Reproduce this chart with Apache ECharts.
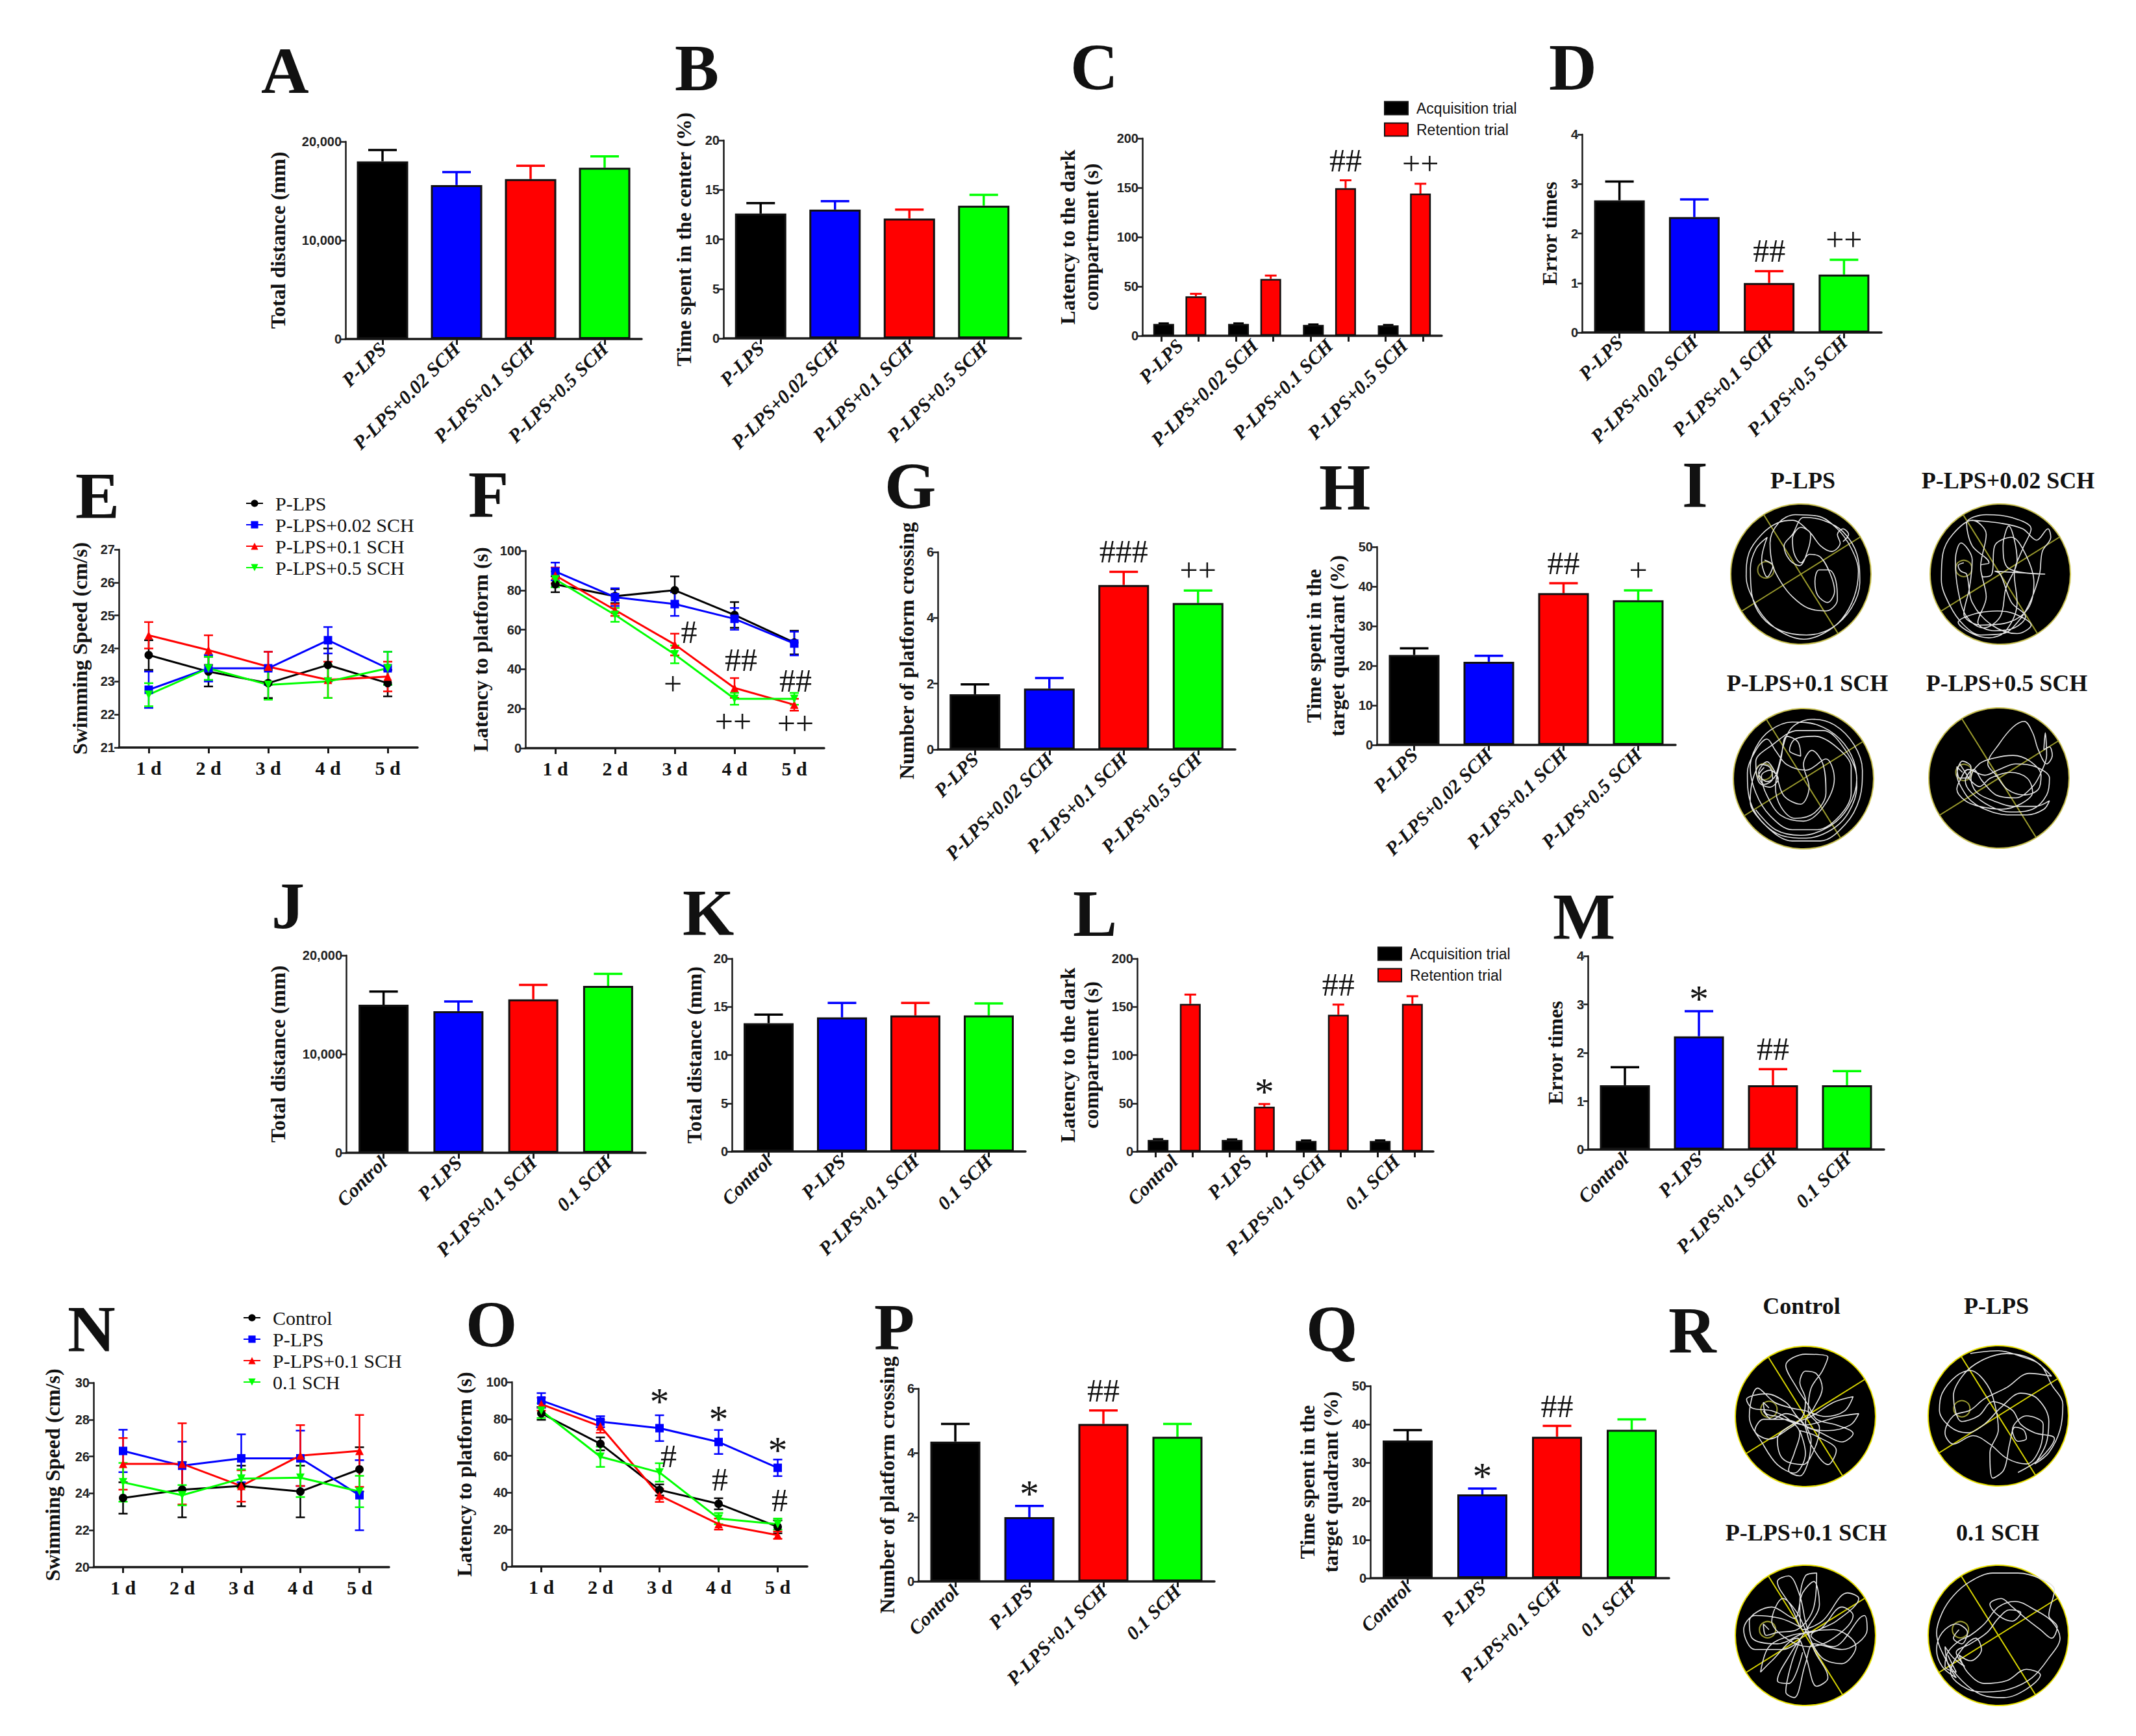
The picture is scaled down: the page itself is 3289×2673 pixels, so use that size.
<!DOCTYPE html>
<html><head><meta charset="utf-8">
<script src="https://cdn.jsdelivr.net/npm/echarts/dist/echarts.min.js"></script>
<style>html,body{margin:0;padding:0;background:#fff}#c{width:3289px;height:2673px}</style>
</head><body><div id="c"></div>
<script>
// ================= DATA =================
const catsSCH = ['P-LPS','P-LPS+0.02 SCH','P-LPS+0.1 SCH','P-LPS+0.5 SCH'];
const catsCtl = ['Control','P-LPS','P-LPS+0.1 SCH','0.1 SCH'];
const days = ['1 d','2 d','3 d','4 d','5 d'];
const trialNames = ['Acquisition trial','Retention trial'];
const groupsEF = ['P-LPS','P-LPS+0.02 SCH','P-LPS+0.1 SCH','P-LPS+0.5 SCH'];
const groupsNO = ['Control','P-LPS','P-LPS+0.1 SCH','0.1 SCH'];

const A_mean=[18000,15600,16200,17350], A_sem=[1150,1300,1350,1150];
const B_mean=[12.6,13.0,12.1,13.4], B_sem=[1.05,0.85,0.9,1.1];
const C_acq=[12,12,11,10.5], C_acqSem=[0.6,0.6,0.5,0.5];
const C_ret=[40,57.5,149.5,144], C_retSem=[2.5,3.5,8,10];
const C_sig=['','','##','++'];
const D_mean=[2.67,2.33,1.0,1.17], D_sem=[0.38,0.36,0.24,0.3], D_sig=['','','##','++'];
const E_means=[[23.8,23.3,22.95,23.5,22.95],[22.75,23.4,23.4,24.25,23.4],[24.4,23.95,23.45,23.05,23.15],[22.6,23.4,22.9,23.0,23.4]];
const E_sems=[[0.45,0.45,0.45,0.5,0.4],[0.55,0.4,0.5,0.4,0.5],[0.4,0.45,0.45,0.55,0.45],[0.35,0.35,0.45,0.5,0.5]];
const F_means=[[83,77,80,67.5,53.5],[89.5,76.5,73,65.5,53],[87.5,70,52.5,30.5,22],[85.5,67.5,47.5,25,25]];
const F_sems=[[4,3.5,7,6.5,6],[4.5,4.5,6,5.5,6],[4,3,5.5,5,3],[4,3.5,4.5,3,3]];
const F_marks=[[2,59,'#'],[2,32.5,'+'],[3,44.7,'##'],[3,13.5,'++'],[4,34.1,'##'],[4,12.4,'++']];
const G_mean=[1.68,1.85,5.0,4.45], G_sem=[0.3,0.32,0.4,0.38], G_sig=['','','###','++'];
const H_mean=[22.7,21.0,38.3,36.5], H_sem=[1.7,1.5,2.5,2.5], H_sig=['','','##','+'];
const J_mean=[15000,14350,15550,16900], J_sem=[1330,980,1460,1220];
const K_mean=[13.3,13.9,14.1,14.1], K_sem=[0.9,1.5,1.3,1.25];
const L_acq=[12,12,11,11], L_acqSem=[0.8,0.6,0.5,0.6];
const L_ret=[153,46.5,141.7,153], L_retSem=[9.7,2.7,10.6,8];
const L_sig=['','*','##',''];
const M_mean=[1.33,2.34,1.33,1.33], M_sem=[0.37,0.52,0.33,0.29], M_sig=['','*','##',''];
const N_means=[[23.75,24.2,24.4,24.1,25.3],[26.3,25.5,25.9,25.9,23.9],[25.6,25.6,24.4,26.05,26.3],[24.6,23.9,24.8,24.85,24.1]];
const N_sems=[[0.85,1.5,1.1,1.4,1.2],[1.15,1.3,1.3,1.5,1.9],[1.4,2.2,0.85,1.65,1.95],[1.05,0.55,0.5,1.05,0.85]];
const O_means=[[83,66.5,41.5,34,21.5],[90,78.5,75,67.5,53.5],[88,76,38.5,23,17],[84.5,59.5,51,26,23]];
const O_sems=[[3.5,3.5,3,3,3.5],[4,3,7,6.5,4.5],[3.5,3.5,3.5,3,2],[4,5.5,5,3,3]];
const O_marks=[[2,89.4,'*'],[2,60,'#'],[3,79.8,'*'],[3,47.2,'#'],[4,63.1,'*'],[4,36,'#']];
const P_mean=[4.35,2.0,4.9,4.5], P_sem=[0.55,0.35,0.42,0.4], P_sig=['','*','##',''];
const Q_mean=[35.8,21.8,36.8,38.6], Q_sem=[2.7,1.5,2.8,2.7], Q_sig=['','*','##',''];

// swim tracks in % of the pool box (x right, y down)
const trackI1=[[80,27],[84,22],[80,18],[76,22],[78,28],[72,34],[64,30],[56,20],[44,12],[33,14],[22,22],[13,35],[11,52],[16,68],[25,82],[38,92],[52,96],[66,92],[79,82],[88,66],[91,48],[86,32],[76,18],[62,9],[46,8],[34,14],[28,28],[30,44],[36,56],[44,66],[55,74],[68,76],[76,68],[75,55],[70,47],[63,47],[60,55],[62,65],[69,70],[74,62],[71,50],[64,38],[56,36],[50,42],[45,35],[44,25],[50,17],[57,22],[55,33],[49,44],[42,40],[38,30],[44,22],[52,10],[66,12],[80,20],[90,36],[92,56],[86,74],[72,88],[54,93],[36,90],[22,80],[15,64],[14,46],[18,32],[26,24],[22,40],[26,52],[30,44],[24,40]];
const trackI2=[[30,12],[50,14],[66,18],[76,26],[84,18],[86,24],[80,34],[78,50],[72,68],[64,82],[52,92],[36,93],[24,86],[14,72],[8,54],[9,36],[16,22],[30,12],[40,22],[36,45],[40,66],[34,84],[46,90],[60,88],[68,80],[58,70],[50,50],[46,48],[82,50],[56,46],[52,30],[56,16],[62,40],[54,60],[50,80],[38,88],[26,80],[20,62],[18,40],[22,28],[30,40],[28,60],[24,78],[36,86],[56,84],[70,74],[74,56],[68,36],[58,24],[46,30],[44,50],[38,52],[36,44],[42,42],[30,30],[26,14],[40,8],[58,10],[72,18],[66,32],[60,50],[62,70],[54,90],[42,95],[30,92],[20,84],[32,78],[48,76],[60,78],[72,86],[62,92],[44,86],[30,70],[26,50],[22,48],[20,44],[24,42]];
const trackI3=[[22,42],[18,48],[22,54],[28,50],[26,42],[20,40],[14,50],[12,66],[20,80],[34,90],[52,92],[70,86],[82,74],[88,56],[86,38],[76,22],[60,12],[42,10],[26,16],[16,28],[12,42],[16,60],[26,76],[42,86],[60,86],[76,76],[84,60],[84,42],[74,28],[58,20],[44,22],[40,30],[48,34],[46,24],[38,20],[34,36],[30,56],[34,70],[44,78],[58,74],[66,60],[64,40],[56,30],[50,40],[54,56],[48,68],[36,62],[30,46],[24,38],[18,46],[24,52],[30,48],[40,16],[56,8],[72,12],[86,26],[92,44],[90,64],[80,82],[62,94],[42,94],[24,84],[12,66],[10,46],[16,30],[24,22],[30,30],[38,40],[52,44],[66,36],[72,50],[64,70],[50,80],[34,76],[24,62],[20,48],[26,44],[32,50],[26,56],[18,52],[16,38],[28,26],[46,16],[64,16],[80,30],[88,50],[82,70],[68,84],[48,90],[30,86],[16,72]];
const trackI4=[[24,46],[20,42],[22,50],[28,50],[30,42],[24,38],[20,48],[24,58],[30,66],[40,72],[56,76],[70,76],[82,72],[86,66],[76,70],[60,70],[46,66],[34,60],[30,50],[36,40],[46,36],[60,34],[72,38],[80,48],[78,58],[68,62],[56,58],[48,48],[42,40],[50,26],[60,14],[68,10],[74,18],[78,30],[84,40],[88,34],[86,28],[82,30],[83,18],[84,34],[80,46],[74,56],[62,64],[48,62],[38,52],[32,44],[26,52],[30,60],[44,70],[58,74],[74,72],[84,62],[86,50],[76,42],[62,40],[50,44],[40,48],[28,44],[22,52],[20,58],[26,66],[36,70],[52,72],[66,68],[74,60],[70,50],[58,46],[44,50],[36,56],[30,52],[26,46],[22,40]];
const trackR1=[[24,44],[20,40],[22,48],[30,50],[40,54],[50,56],[60,54],[74,50],[88,48],[82,56],[66,60],[52,58],[44,50],[36,40],[22,34],[8,38],[12,44],[26,46],[38,52],[46,62],[42,76],[38,88],[46,92],[52,82],[54,66],[50,54],[56,44],[62,30],[58,20],[50,18],[46,26],[50,38],[48,50],[36,60],[24,66],[14,60],[20,52],[34,52],[48,56],[62,62],[76,68],[84,62],[72,56],[58,52],[52,42],[44,30],[36,14],[50,6],[66,8],[62,18],[54,30],[52,46],[60,58],[56,74],[48,84],[34,80],[30,66],[40,56],[54,50],[70,40],[84,36],[78,46],[64,50],[50,46],[40,44],[28,40],[16,30],[10,50],[20,70],[30,84],[42,90],[50,76],[46,60],[58,64],[72,74],[66,84],[54,70],[48,54],[36,48],[26,52],[20,46]];
const trackR2=[[30,6],[50,4],[66,8],[80,14],[88,28],[96,42],[94,60],[86,76],[76,84],[84,70],[86,54],[78,38],[66,34],[52,44],[40,56],[28,62],[16,58],[8,46],[10,34],[20,22],[30,18],[42,28],[48,44],[50,60],[44,76],[46,94],[54,88],[58,70],[62,58],[68,60],[70,66],[64,68],[60,60],[70,50],[82,56],[80,72],[70,84],[56,80],[44,70],[32,64],[18,70],[12,62],[18,50],[30,46],[40,38],[56,30],[72,20],[88,22],[74,10],[56,6],[40,10],[26,20],[18,36],[24,54],[36,50],[46,40],[60,46],[66,56],[76,62],[90,66],[80,80],[64,90]];
const trackR3=[[24,46],[20,42],[22,50],[30,48],[44,46],[56,30],[58,6],[50,8],[46,28],[48,46],[62,40],[80,20],[88,24],[72,40],[54,50],[70,58],[92,36],[94,46],[76,60],[56,56],[50,70],[42,94],[36,90],[40,70],[46,54],[34,60],[14,60],[6,46],[14,36],[32,38],[46,44],[40,30],[30,12],[38,8],[46,22],[50,40],[56,60],[66,80],[58,86],[50,64],[44,52],[26,68],[18,76],[24,58],[40,50],[60,46],[76,30],[84,36],[70,52],[52,58],[36,52],[26,40],[34,24],[44,34],[52,50],[62,66],[76,70],[86,58],[70,46],[50,48],[30,56],[12,52],[10,40],[26,30],[42,38],[48,20],[56,12],[60,28],[52,44],[40,62],[30,82],[38,84],[48,62]];
const trackR4=[[22,46],[18,52],[24,56],[28,48],[20,42],[10,48],[6,60],[10,72],[20,80],[14,70],[12,58],[18,66],[26,72],[20,62],[30,56],[42,48],[50,38],[58,32],[66,34],[60,40],[50,36],[44,28],[52,24],[60,30],[72,40],[80,46],[88,52],[92,44],[86,36],[90,18],[80,10],[64,6],[46,6],[30,12],[18,22],[10,34],[6,48],[12,66],[24,82],[38,92],[54,94],[70,88],[80,78],[70,74],[56,82],[40,84],[28,76],[22,64],[30,68],[38,60],[34,52],[24,60],[16,76],[28,88],[42,90],[58,88],[74,80],[86,66],[94,52],[88,40],[76,32],[62,26],[50,30],[40,42],[30,50],[22,54],[14,62],[12,72],[20,76],[14,64]];
const platformsI=[[25,47],[24,46],[22,45],[25,46]];
const platformsR=[[24,45],[24,45],[23,46],[23,46]];
const quadrantAngles=[58,-32];
const arenaCaptions=['P-LPS','P-LPS+0.02 SCH','P-LPS+0.1 SCH','P-LPS+0.5 SCH','Control','P-LPS','P-LPS+0.1 SCH','0.1 SCH'];
const panelLetters=['A','B','C','D','E','F','G','H','I','J','K','L','M','N','O','P','Q','R'];

// ================= LAYOUT / STYLE =================
const SERIF='"Liberation Serif","Times New Roman",Times,serif';
const SANS='"Liberation Sans",Arial,Helvetica,sans-serif';
const INK='#111';
const groupColors=['#000000','#0000ff','#ff0000','#00ff00'];
const lineSymbols=[['circle',0],['rect',0],['triangle',0],['triangle',180]];
const letterPos=[[402,108],[1039,104],[1648,103],[2385,103],[116,763],[721,761],[1362,748],[2031,750],[2590,746],[418,1394],[1051,1405],[1652,1406],[2391,1411],[104,2046],[717,2039],[1346,2043],[2011,2046],[2569,2048]];
const captionPos=[[2776,740],[3092,740],[2783,1052],[3090,1052],[2774,2011],[3074,2011],[2781,2360],[3076,2360]];
const arenaCentersI=[[2773,884],[3080,884],[2777,1199],[3078,1198]];
const arenaCentersR=[[2780,2181],[3077,2180],[2780,2518],[3077,2518]];
const F_markDx=[22,-3,10,-2,2,2], O_markDx=[0,14,0,2,0,3];

const option={animation:false,backgroundColor:'#fff',grid:[],xAxis:[],yAxis:[],series:[],legend:[],graphic:[]};
const comma=v=>Number(v).toLocaleString('en-US');

function addGrid(box){option.grid.push(Object.assign({containLabel:false,outerBoundsMode:'none'},box));return option.grid.length-1;}
function yAxisCfg(g,p){return{gridIndex:g,type:'value',min:p.min,max:p.max,interval:p.interval,
  name:p.name,nameLocation:'middle',nameGap:p.gap,nameRotate:90,nameMoveOverlap:false,
  nameTextStyle:{fontFamily:SERIF,fontWeight:'bold',fontSize:32,lineHeight:36,color:INK},
  axisLine:{show:true,onZero:false,lineStyle:{color:'#1a1a1a',width:2.5}},
  axisTick:{show:true,length:7,lineStyle:{color:'#1a1a1a',width:2.5}},
  axisLabel:{fontFamily:SANS,fontWeight:'bold',fontSize:20,color:'#222',margin:6,formatter:p.fmt},
  splitLine:{show:false}};}
function xCatAxis(g,cats,rot,tick){return{gridIndex:g,type:'category',data:cats,position:'bottom',
  axisLine:{onZero:false,lineStyle:{color:'#1a1a1a',width:3.5}},
  axisTick:{show:tick,alignWithLabel:true,length:9,lineStyle:{color:'#1a1a1a',width:3}},
  axisLabel:rot?{interval:0,rotate:45,margin:10,fontFamily:SERIF,fontStyle:'italic',fontWeight:'bold',fontSize:30,color:INK}
              :{interval:0,margin:16,fontFamily:SERIF,fontWeight:'bold',fontSize:30,color:INK}};}

function errSeries(xi,yi,lo,hi,colors,capW,lw,dx,both){
  return{type:'custom',xAxisIndex:xi,yAxisIndex:yi,z:both?4:2,silent:true,clip:false,
    data:lo.map((v,i)=>[i,v,hi[i]]),
    renderItem:(params,api)=>{const i=params.dataIndex;const c=Array.isArray(colors)?colors[i]:colors;
      const p0=api.coord([api.value(0),api.value(1)]),p1=api.coord([api.value(0),api.value(2)]);const x=p0[0]+dx;
      const st={stroke:c,lineWidth:lw};
      const ch=[{type:'line',shape:{x1:x,y1:p0[1],x2:x,y2:p1[1]},style:st},
                {type:'line',shape:{x1:x-capW/2,y1:p1[1],x2:x+capW/2,y2:p1[1]},style:st}];
      if(both)ch.push({type:'line',shape:{x1:x-capW/2,y1:p0[1],x2:x+capW/2,y2:p0[1]},style:st});
      return{type:'group',children:ch};}};
}
function textEl(x,y,t){const star=t.indexOf('*')>=0;
  return{type:'text',x:x,y:y,style:{text:t,fontFamily:SERIF,fontSize:star?60:50,fill:INK,align:'center',verticalAlign:'middle',textAlign:'center',textVerticalAlign:'middle'}};}
function sigSeries(xi,yi,means,sems,sig,dx){
  const idx=sig.map((t,i)=>t?i:-1).filter(i=>i>=0);
  return{type:'custom',xAxisIndex:xi,yAxisIndex:yi,z:5,silent:true,clip:false,
    data:idx.map(i=>[i,means[i]+sems[i]]),
    renderItem:(params,api)=>{const t=sig[idx[params.dataIndex]];const p=api.coord([api.value(0),api.value(1)]);
      return textEl(p[0]+dx,p[1]-(t.indexOf('*')>=0?19:31),t);}};
}
function markSeries(xi,yi,marks,dxs){
  return{type:'custom',xAxisIndex:xi,yAxisIndex:yi,z:6,silent:true,clip:false,
    data:marks.map(m=>[m[0],m[1]]),
    renderItem:(params,api)=>{const i=params.dataIndex;const p=api.coord([api.value(0),api.value(1)]);
      return textEl(p[0]+dxs[i],p[1],marks[i][2]);}};
}
function barPanel(box,cats,means,sems,sig,y,barW){
  const g=addGrid(box);
  option.xAxis.push(xCatAxis(g,cats,true,true));const xi=option.xAxis.length-1;
  option.yAxis.push(yAxisCfg(g,y));const yi=option.yAxis.length-1;
  option.series.push({type:'bar',name:'bars'+g,xAxisIndex:xi,yAxisIndex:yi,barWidth:barW,z:3,
    data:means.map((v,i)=>({value:v,itemStyle:{color:groupColors[i]}})),
    itemStyle:{borderColor:'#111',borderWidth:3}});
  option.series.push(errSeries(xi,yi,means,means.map((m,i)=>m+sems[i]),groupColors,44,3.5,0,false));
  if(sig)option.series.push(sigSeries(xi,yi,means,sems,sig,0));
}
function groupedPanel(box,cats,acq,acqSem,ret,retSem,sig,y){
  const g=addGrid(box);const barW=32,gap=0.55;
  option.xAxis.push(xCatAxis(g,cats,true,false));const xi=option.xAxis.length-1;
  option.xAxis.push({gridIndex:g,type:'category',position:'bottom',data:['','','','','','','',''],
    axisLine:{show:false,onZero:false},axisTick:{show:true,alignWithLabel:true,length:9,lineStyle:{color:'#1a1a1a',width:3}},axisLabel:{show:false}});
  option.yAxis.push(yAxisCfg(g,y));const yi=option.yAxis.length-1;
  const off=(barW+barW*gap)/2;
  option.series.push({type:'bar',name:trialNames[0],xAxisIndex:xi,yAxisIndex:yi,barWidth:barW,data:acq,z:3,
    itemStyle:{color:'#000',borderColor:'#111',borderWidth:2.5}});
  option.series.push({type:'bar',name:trialNames[1],xAxisIndex:xi,yAxisIndex:yi,barWidth:barW,barGap:(gap*100)+'%',data:ret,z:3,
    itemStyle:{color:'#ff0000',borderColor:'#111',borderWidth:2.5}});
  option.series.push(errSeries(xi,yi,acq,acq.map((m,i)=>m+acqSem[i]),'#000',16,3,-off,false));
  option.series.push(errSeries(xi,yi,ret,ret.map((m,i)=>m+retSem[i]),'#ff0000',18,3,off,false));
  option.series.push(sigSeries(xi,yi,ret,retSem,sig,off));
}
function linePanel(box,prefix,names,means,sems,y,marks,dxs){
  const g=addGrid(box);
  option.xAxis.push(xCatAxis(g,days,false,true));const xi=option.xAxis.length-1;
  option.yAxis.push(yAxisCfg(g,y));const yi=option.yAxis.length-1;
  names.forEach((n,k)=>{
    option.series.push({type:'line',name:prefix+'|'+n,xAxisIndex:xi,yAxisIndex:yi,data:means[k],
      symbol:lineSymbols[k][0],symbolRotate:lineSymbols[k][1],symbolSize:13,z:5,
      lineStyle:{color:groupColors[k],width:3},itemStyle:{color:groupColors[k]}});
    option.series.push(errSeries(xi,yi,means[k].map((m,i)=>m-sems[k][i]),means[k].map((m,i)=>m+sems[k][i]),groupColors[k],14,2.5,0,true));
  });
  if(marks)option.series.push(markSeries(xi,yi,marks,dxs));
}
function arenaPanel(center,track,platform,bright){
  const g=addGrid({left:center[0]-108,top:center[1]-109,width:216,height:218});
  option.xAxis.push({gridIndex:g,type:'value',min:0,max:100,show:false});const xi=option.xAxis.length-1;
  option.yAxis.push({gridIndex:g,type:'value',min:0,max:100,inverse:true,show:false});const yi=option.yAxis.length-1;
  const qCol=bright?'#d8d400':'#9a9a2c', edge=bright?'#e8e000':'#c8c050', pCol=bright?'#9a9a30':'#8c8c34';
  option.series.push({type:'custom',xAxisIndex:xi,yAxisIndex:yi,z:1,silent:true,clip:false,data:[[50,50]],
    renderItem:(p,api)=>{const c=api.coord([50,50]);const s=api.size([50,50]);
      return{type:'group',children:[{type:'circle',shape:{cx:c[0],cy:c[1],r:Math.abs(s[0])},style:{fill:'#000',stroke:edge,lineWidth:2}}]};}});
  option.series.push({type:'custom',xAxisIndex:xi,yAxisIndex:yi,z:2,silent:true,clip:false,data:quadrantAngles.map(a=>[50,50,a]),
    renderItem:(p,api)=>{const c=api.coord([50,50]);const r=Math.abs(api.size([50,50])[0]);const a=api.value(2)*Math.PI/180;
      const dx=r*Math.cos(a),dy=r*Math.sin(a);
      return{type:'line',shape:{x1:c[0]-dx,y1:c[1]-dy,x2:c[0]+dx,y2:c[1]+dy},style:{stroke:qCol,lineWidth:2}};}});
  option.series.push({type:'custom',xAxisIndex:xi,yAxisIndex:yi,z:3,silent:true,clip:false,data:[platform],
    renderItem:(p,api)=>{const c=api.coord([api.value(0),api.value(1)]);const r=Math.abs(api.size([5.8,5.8])[0]);
      return{type:'circle',shape:{cx:c[0],cy:c[1],r:r},style:{fill:'none',stroke:pCol,lineWidth:2}};}});
  option.series.push({type:'line',xAxisIndex:xi,yAxisIndex:yi,z:4,silent:true,data:track,symbol:'none',smooth:0.35,
    lineStyle:{color:'#e4e4e4',width:1.6}});
}

// ================= PANELS =================
barPanel({left:532,top:218,width:456,height:304},catsSCH,A_mean,A_sem,null,{min:0,max:20000,interval:10000,name:'Total distance (mm)',gap:86,fmt:comma},79);
barPanel({left:1114,top:216,width:458,height:305},catsSCH,B_mean,B_sem,null,{min:0,max:20,interval:5,name:'Time spent in the center (%)',gap:43},79);
groupedPanel({left:1759,top:213,width:461,height:304},catsSCH,C_acq,C_acqSem,C_ret,C_retSem,C_sig,{min:0,max:200,interval:50,name:'Latency to the dark\ncompartment (s)',gap:61});
barPanel({left:2436,top:207,width:461,height:305},catsSCH,D_mean,D_sem,D_sig,{min:0,max:4,interval:1,name:'Error times',gap:32},78);
linePanel({left:183,top:846,width:460,height:305},'EF',groupsEF,E_means,E_sems,{min:21,max:27,interval:1,name:'Swimming Speed (cm/s)',gap:42});
linePanel({left:809,top:848,width:460,height:304},'EF',groupsEF,F_means,F_sems,{min:0,max:100,interval:20,name:'Latency to platform (s)',gap:51},F_marks,F_markDx);
barPanel({left:1444,top:850,width:458,height:304},catsSCH,G_mean,G_sem,G_sig,{min:0,max:6,interval:2,name:'Number of platform crossing',gap:30},78);
barPanel({left:2120,top:842,width:460,height:305},catsSCH,H_mean,H_sem,H_sig,{min:0,max:50,interval:10,name:'Time spent in the\ntarget quadrant (%)',gap:43},78);
barPanel({left:533,top:1471,width:461,height:304},catsCtl,J_mean,J_sem,null,{min:0,max:20000,interval:10000,name:'Total distance (mm)',gap:87,fmt:comma},77);
barPanel({left:1127,top:1476,width:452,height:297},catsCtl,K_mean,K_sem,null,{min:0,max:20,interval:5,name:'Total distance (mm)',gap:40},77);
groupedPanel({left:1751,top:1476,width:456,height:297},catsCtl,L_acq,L_acqSem,L_ret,L_retSem,L_sig,{min:0,max:200,interval:50,name:'Latency to the dark\ncompartment (s)',gap:53});
barPanel({left:2445,top:1472,width:456,height:298},catsCtl,M_mean,M_sem,M_sig,{min:0,max:4,interval:1,name:'Error times',gap:32},77);
linePanel({left:144,top:2129,width:455,height:284},'NO',groupsNO,N_means,N_sems,{min:20,max:30,interval:2,name:'Swimming Speed (cm/s)',gap:45});
linePanel({left:788,top:2128,width:455,height:284},'NO',groupsNO,O_means,O_sems,{min:0,max:100,interval:20,name:'Latency to platform (s)',gap:55},O_marks,O_markDx);
barPanel({left:1414,top:2138,width:456,height:297},catsCtl,P_mean,P_sem,P_sig,{min:0,max:6,interval:2,name:'Number of platform crossing',gap:30},77);
barPanel({left:2110,top:2134,width:460,height:296},catsCtl,Q_mean,Q_sem,Q_sig,{min:0,max:50,interval:10,name:'Time spent in the\ntarget quadrant (%)',gap:43},77);

[trackI1,trackI2,trackI3,trackI4].forEach((t,i)=>arenaPanel(arenaCentersI[i],t,platformsI[i],false));
[trackR1,trackR2,trackR3,trackR4].forEach((t,i)=>arenaPanel(arenaCentersR[i],t,platformsR[i],true));

// legends
const lineLegend=(left,top,prefix,names)=>({left,top,orient:'vertical',itemWidth:26,itemHeight:14,itemGap:3,selectedMode:false,
  data:names.map(n=>prefix+'|'+n),formatter:n=>n.split('|')[1],
  textStyle:{fontFamily:SERIF,fontSize:30,color:INK,padding:[0,0,0,14]}});
option.legend.push(lineLegend(373,755,'EF',groupsEF));
option.legend.push(lineLegend(369,2009,'NO',groupsNO));
const barLegend=(left,top)=>({left,top,orient:'vertical',itemWidth:36,itemHeight:20,itemGap:10,selectedMode:false,icon:'rect',
  data:trialNames,itemStyle:{borderColor:'#111',borderWidth:2},textStyle:{fontFamily:SANS,fontSize:23,color:INK,padding:[0,0,0,8]}});
option.legend.push(barLegend(2126,150));
option.legend.push(barLegend(2116,1452));

// panel letters and pool captions
panelLetters.forEach((t,i)=>option.graphic.push({type:'text',x:letterPos[i][0],y:letterPos[i][1],silent:true,
  style:{text:t,fontFamily:SERIF,fontWeight:'bold',fontSize:102,fill:INK,align:'left',verticalAlign:'middle',textAlign:'left',textVerticalAlign:'middle'}}));
arenaCaptions.forEach((t,i)=>option.graphic.push({type:'text',x:captionPos[i][0],y:captionPos[i][1],silent:true,
  style:{text:t,fontFamily:SERIF,fontWeight:'bold',fontSize:36,fill:INK,align:'center',verticalAlign:'middle',textAlign:'center',textVerticalAlign:'middle'}}));

const chart=echarts.init(document.getElementById('c'),null,{renderer:'svg',width:3289,height:2673});
chart.setOption(option);
</script>
</body></html>
